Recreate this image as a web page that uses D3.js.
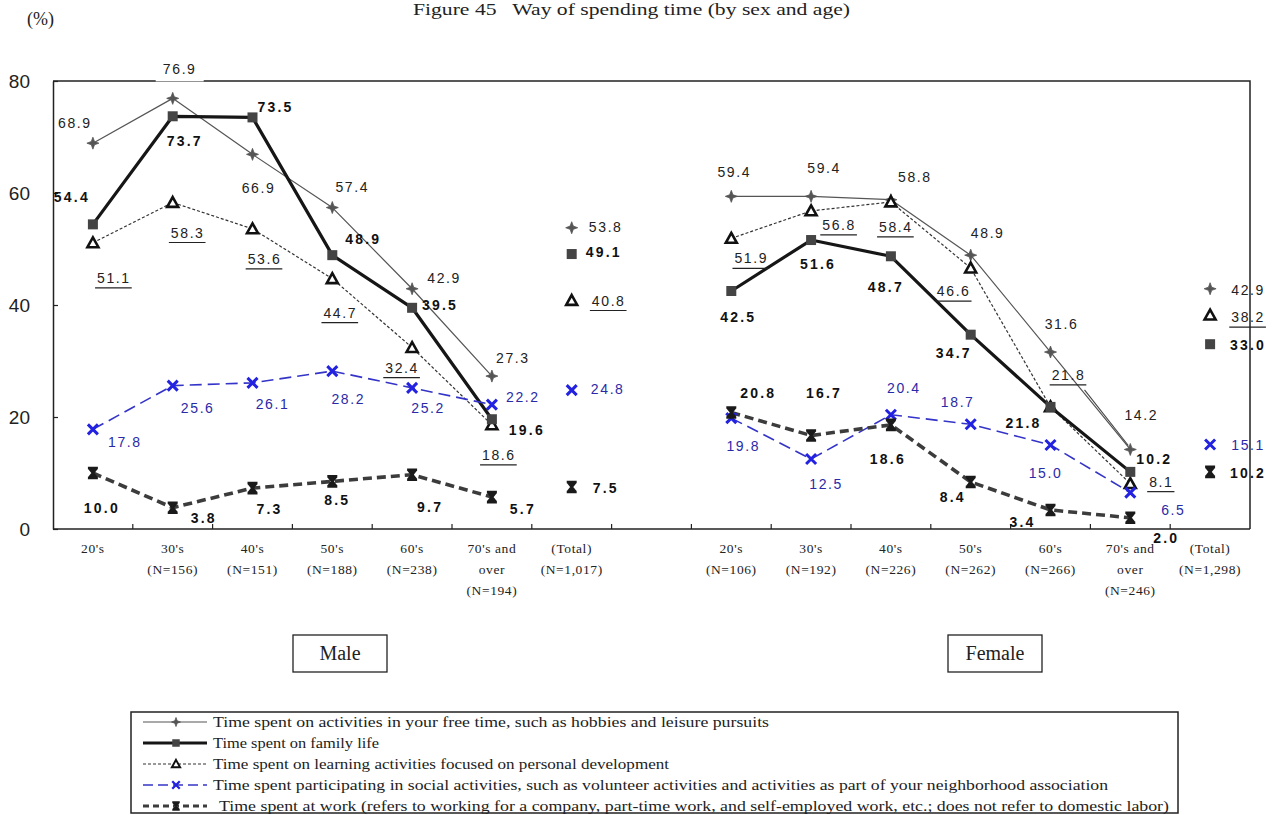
<!DOCTYPE html>
<html>
<head>
<meta charset="utf-8">
<script src="https://cdn.jsdelivr.net/npm/d3@7"></script>
<style>
  html, body { margin: 0; padding: 0; background: #fff; }
  svg { display: block; }
</style>
</head>
<body>
<svg id="chart" width="1278" height="815"></svg>
<script>
// ---- data -------------------------------------------------------------
const ageGroups = ["20's", "30's", "40's", "50's", "60's", "70's and over", "(Total)"];

const maleTickLabels = [
  ["20's"], ["30's", "(N=156)"], ["40's", "(N=151)"], ["50's", "(N=188)"],
  ["60's", "(N=238)"], ["70's and", "over", "(N=194)"], ["(Total)", "(N=1,017)"]
];
const femaleTickLabels = [
  ["20's", "(N=106)"], ["30's", "(N=192)"], ["40's", "(N=226)"], ["50's", "(N=262)"],
  ["60's", "(N=266)"], ["70's and", "over", "(N=246)"], ["(Total)", "(N=1,298)"]
];
const yTicks = [0, 20, 40, 60, 80];

// values per age group; the last entry is the total
const maleFree     = [68.9, 76.9, 66.9, 57.4, 42.9, 27.3, 53.8];
const maleFamily   = [54.4, 73.7, 73.5, 48.9, 39.5, 19.6, 49.1];
const maleLearning = [51.1, 58.3, 53.6, 44.7, 32.4, 18.6, 40.8];
const maleSocial   = [17.8, 25.6, 26.1, 28.2, 25.2, 22.2, 24.8];
const maleWork     = [10.0, 3.8, 7.3, 8.5, 9.7, 5.7, 7.5];

const femaleFree     = [59.4, 59.4, 58.8, 48.9, 31.6, 14.2, 42.9];
const femaleFamily   = [42.5, 51.6, 48.7, 34.7, 21.8, 10.2, 33.0];
const femaleLearning = [51.9, 56.8, 58.4, 46.6, 21.8, 8.1, 38.2];
const femaleSocial   = [19.8, 12.5, 20.4, 18.7, 15.0, 6.5, 15.1];
const femaleWork     = [20.8, 16.7, 18.6, 8.4, 3.4, 2.0, 10.2];

const legendLabels = [
  "Time spent on activities in your free time, such as hobbies and leisure pursuits",
  "Time spent on family life",
  "Time spent on learning activities focused on personal development",
  "Time spent participating in social activities, such as volunteer activities and activities as part of your neighborhood association",
  "Time spent at work (refers to working for a company, part-time work, and self-employed work, etc.; does not refer to domestic labor)"
];

// value-label offsets from their point (dx, dy), in pixels
const maleFreeOff     = [[-18,-20],[7,-29],[6,34],[20,-21],[32,-11],[21,-18],[34,-1]];
const maleFamilyOff   = [[-21,-27],[12,25],[23,-10],[31,-16],[28,-3],[35,11],[32,-2]];
const maleLearningOff = [[21,35],[15,30],[12,30],[8,34],[-10,20],[7,30],[37,0]];
const maleSocialOff   = [[32,13],[25,22],[20,21],[16,28],[16,20],[31,-8],[36,-1]];
const maleWorkOff     = [[9,35],[31,10],[17,21],[5,19],[18,32],[31,12],[34,1]];

const femaleFreeOff     = [[3,-24],[13,-28],[24,-23],[17,-22],[11,-28],[11,-34],[38,1]];
const femaleFamilyOff   = [[7,26],[7,24],[-5,31],[-17,18],[-27,16],[24,-13],[38,1]];
const femaleLearningOff = [[20,20],[28,14],[5,25],[-17,23],[18,-32],[31,-2],[38,2]];
const femaleSocialOff   = [[12,28],[15,25],[13,-27],[-13,-22],[-5,28],[43,17],[38,1]];
const femaleWorkOff     = [[27,-20],[13,-42],[-3,34],[-18,15],[-28,12],[36,20],[38,1]];

// ---- setup ------------------------------------------------------------
const SANS = "'Liberation Sans', Arial, sans-serif";
const SERIF = "'Liberation Serif', 'Times New Roman', serif";
const svg = d3.select("#chart");

const plot = { left: 53, right: 1250, top: 81, bottom: 529 };
const slots = d3.range(15);             // 7 male slots, one gap, 7 female slots
const x = d3.scaleBand().domain(slots).range([plot.left, plot.right]).padding(0);
const cx = i => x(i) + x.bandwidth() / 2;
const y = d3.scaleLinear().domain([0, 80]).range([plot.bottom, plot.top]);

const styles = {
  free:     { stroke: "#555", width: 1.2, dash: null,   label: "#222", bold: false, underline: false },
  family:   { stroke: "#161616", width: 3.2, dash: null, label: "#111", bold: true,  underline: false },
  learning: { stroke: "#333", width: 1.2, dash: "3,2",  label: "#222", bold: false, underline: true },
  social:   { stroke: "#3434c8", width: 1.6, dash: "12,6", label: "#2a2aa8", bold: false, underline: false },
  work:     { stroke: "#3c3c3c", width: 3.6, dash: "9,5", label: "#111", bold: true,  underline: false }
};

const groups = [
  { offset: 0, series: [
    { key: "free", values: maleFree, off: maleFreeOff },
    { key: "learning", values: maleLearning, off: maleLearningOff },
    { key: "family", values: maleFamily, off: maleFamilyOff },
    { key: "social", values: maleSocial, off: maleSocialOff },
    { key: "work", values: maleWork, off: maleWorkOff }
  ]},
  { offset: 8, series: [
    { key: "free", values: femaleFree, off: femaleFreeOff },
    { key: "learning", values: femaleLearning, off: femaleLearningOff },
    { key: "family", values: femaleFamily, off: femaleFamilyOff },
    { key: "social", values: femaleSocial, off: femaleSocialOff },
    { key: "work", values: femaleWork, off: femaleWorkOff }
  ]}
];

// ---- marker shapes ----------------------------------------------------
function drawMarker(g, key, px, py, s = 1) {
  if (key === "free") {
    const r = 6 * s, q = 1.6 * s;
    g.append("path")
      .attr("d", `M${px},${py - r}L${px + q},${py - q}L${px + r},${py}L${px + q},${py + q}L${px},${py + r}L${px - q},${py + q}L${px - r},${py}L${px - q},${py - q}Z`)
      .attr("fill", "#555").attr("stroke", "#555").attr("stroke-width", 0.8);
  } else if (key === "family") {
    const h = 5 * s;
    g.append("rect").attr("x", px - h).attr("y", py - h).attr("width", 2 * h).attr("height", 2 * h)
      .attr("fill", "#444");
  } else if (key === "learning") {
    const w = 5.5 * s;
    g.append("path")
      .attr("d", `M${px},${py - w}L${px + w},${py + w * 0.8}L${px - w},${py + w * 0.8}Z`)
      .attr("fill", "#fff").attr("stroke", "#111").attr("stroke-width", 2.6 * s).attr("stroke-linejoin", "miter");
  } else if (key === "social") {
    const w = 5 * s;
    g.append("path")
      .attr("d", `M${px - w},${py - w}L${px + w},${py + w}M${px + w},${py - w}L${px - w},${py + w}`)
      .attr("stroke", "#2222e0").attr("stroke-width", 3 * s).attr("fill", "none");
  } else if (key === "work") {
    const w = 5 * s;
    g.append("path")
      .attr("d", `M${px - w},${py - w}L${px + w},${py - w}M${px - w},${py + w}L${px + w},${py + w}` +
                 `M${px - w * 0.8},${py - w}L${px + w * 0.8},${py + w}M${px + w * 0.8},${py - w}L${px - w * 0.8},${py + w}` +
                 `M${px},${py - w}L${px},${py + w}`)
      .attr("stroke", "#1a1a1a").attr("stroke-width", 2.6 * s).attr("fill", "none");
  }
}

// ---- title ------------------------------------------------------------
svg.append("text").attr("x", 413).attr("y", 15)
  .attr("textLength", 437).attr("lengthAdjust", "spacingAndGlyphs")
  .attr("font-family", SERIF).attr("font-size", 17).attr("fill", "#222")
  .text("Figure 45\u00a0\u00a0 Way of spending time (by sex and age)");
svg.append("text").attr("x", 27).attr("y", 25)
  .attr("font-family", SERIF).attr("font-size", 18).attr("fill", "#222")
  .text("(%)");

// ---- frame & axes -----------------------------------------------------
const frame = svg.append("g").attr("stroke", "#222").attr("stroke-width", 1.5).attr("fill", "none");
frame.append("path").attr("d", `M${plot.left},${plot.top}H${plot.right}V${plot.bottom}`);

const yAxis = svg.append("g").attr("transform", `translate(${plot.left},0)`)
  .call(d3.axisLeft(y).tickValues(yTicks).tickSizeInner(-5).tickSizeOuter(0).tickPadding(23));
yAxis.select(".domain").attr("stroke", "#222").attr("stroke-width", 1.5);
yAxis.selectAll(".tick line").attr("stroke", "#222").attr("stroke-width", 1.2);
yAxis.selectAll(".tick text").attr("font-family", SANS).attr("font-size", 19).attr("fill", "#222");

const xAxis = svg.append("g").attr("transform", `translate(0,${plot.bottom})`);
xAxis.append("path").attr("d", `M${plot.left},0H${plot.right}`).attr("stroke", "#222").attr("stroke-width", 1.5);
xAxis.selectAll("line.tk").data(d3.range(1, 15)).join("line")
  .attr("x1", i => x(i)).attr("x2", i => x(i)).attr("y1", 0).attr("y2", -5)
  .attr("stroke", "#222").attr("stroke-width", 1.2);

const tickSets = [
  { offset: 0, labels: maleTickLabels },
  { offset: 8, labels: femaleTickLabels }
];
tickSets.forEach(set => {
  set.labels.forEach((lines, i) => {
    const t = xAxis.append("text").attr("x", cx(set.offset + i)).attr("y", 0)
      .attr("text-anchor", "middle").attr("font-family", SERIF).attr("font-size", 13.5)
      .attr("letter-spacing", 0.6).attr("fill", "#222");
    lines.forEach((ln, k) => t.append("tspan").attr("x", cx(set.offset + i)).attr("y", 24 + k * 21).text(ln));
  });
});

// ---- lines ------------------------------------------------------------
const line = d3.line().x(d => cx(d.i)).y(d => y(d.v));
const lineLayer = svg.append("g");
const markLayer = svg.append("g");
const labelLayer = svg.append("g");
const fmt = d3.format(".1f");

groups.forEach(grp => {
  grp.series.forEach(s => {
    const st = styles[s.key];
    const pts = s.values.slice(0, 6).map((v, k) => ({ i: grp.offset + k, v }));
    lineLayer.append("path").datum(pts).attr("d", line)
      .attr("fill", "none").attr("stroke", st.stroke).attr("stroke-width", st.width)
      .attr("stroke-dasharray", st.dash).attr("stroke-linejoin", "round");
  });
});

// ---- markers & value labels ------------------------------------------
groups.forEach(grp => {
  grp.series.forEach(s => {
    const st = styles[s.key];
    s.values.forEach((v, k) => {
      const px = cx(grp.offset + k), py = y(v);
      drawMarker(markLayer, s.key, px, py);
      const [dx, dy] = s.off[k];
      const lx = px + dx, ly = py + dy;
      const g = labelLayer.append("g");
      const topClash = ly - 10 < plot.top + 2 && ly + 10 > plot.top - 2;
      if (topClash) {
        g.append("rect").attr("x", lx - 24).attr("y", ly - 12).attr("width", 48).attr("height", 24).attr("fill", "#fff");
      }
      const t = g.append("text").attr("x", lx).attr("y", ly)
        .attr("text-anchor", "middle").attr("dominant-baseline", "central")
        .attr("font-family", SANS).attr("font-size", 14)
        .attr("font-weight", st.bold ? "bold" : "normal")
        .attr("letter-spacing", st.bold ? 2.2 : 1.6)
        .attr("fill", st.label).text(fmt(v));
      if (st.underline) {
        const w = t.node().getComputedTextLength();
        g.append("line").attr("x1", lx - w / 2 - 2).attr("x2", lx + w / 2 + 1)
          .attr("y1", ly + 10).attr("y2", ly + 10).attr("stroke", "#222").attr("stroke-width", 1.2);
      }
    });
  });
});

// leader from the female 60's learning label down to the 70's point
{
  const k60 = 4, k70 = 5;
  const ax = cx(8 + k60) + femaleLearningOff[k60][0] + 16, ay = y(femaleLearning[k60]) + femaleLearningOff[k60][1] + 15;
  const bx = cx(8 + k70) - 2, by = y(femaleFree[k70]) - 4;
  lineLayer.append("line").attr("x1", ax).attr("y1", ay).attr("x2", bx).attr("y2", by)
    .attr("stroke", "#444").attr("stroke-width", 1.1);
}

// ---- sex boxes ----------------------------------------------------------
[{ label: "Male", cxv: 340 }, { label: "Female", cxv: 995 }].forEach(b => {
  svg.append("rect").attr("x", b.cxv - 47).attr("y", 635).attr("width", 94).attr("height", 37)
    .attr("fill", "#fff").attr("stroke", "#222").attr("stroke-width", 1.3);
  svg.append("text").attr("x", b.cxv).attr("y", 660).attr("text-anchor", "middle")
    .attr("font-family", SERIF).attr("font-size", 20).attr("fill", "#222").text(b.label);
});

// ---- legend -------------------------------------------------------------
const legend = svg.append("g");
legend.append("rect").attr("x", 131).attr("y", 712).attr("width", 1047).attr("height", 101)
  .attr("fill", "#fff").attr("stroke", "#222").attr("stroke-width", 1.5);
const legendKeys = ["free", "family", "learning", "social", "work"];
const legendWidths = [556, 166, 456, 895, 950];
const legendStart = [213, 213, 213, 213, 219];
legendKeys.forEach((key, r) => {
  const ry = 722 + r * 21;
  const st = styles[key];
  legend.append("line").attr("x1", 143).attr("x2", 207).attr("y1", ry).attr("y2", ry)
    .attr("stroke", key === "learning" ? "#333" : st.stroke)
    .attr("stroke-width", key === "family" ? 3 : key === "work" ? 3 : st.width)
    .attr("stroke-dasharray", key === "social" ? "10,5" : key === "work" ? "6,4" : st.dash);
  drawMarker(legend, key, 176, ry, 0.75);
  legend.append("text").attr("x", legendStart[r]).attr("y", ry + 5)
    .attr("textLength", legendWidths[r]).attr("lengthAdjust", "spacingAndGlyphs")
    .attr("font-family", SERIF).attr("font-size", 14.5).attr("fill", "#222")
    .text(legendLabels[r]);
});
</script>
</body>
</html>
